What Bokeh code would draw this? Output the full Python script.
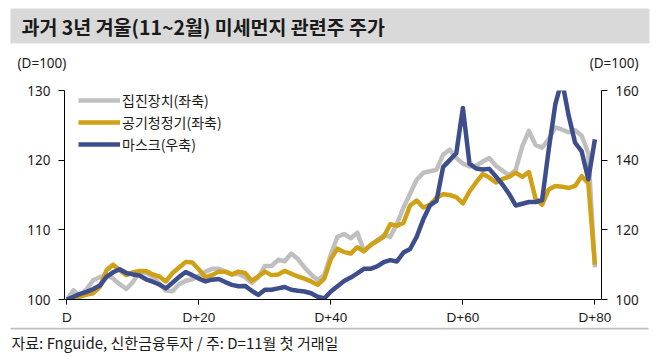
from bokeh.plotting import figure
from bokeh.layouts import column
from bokeh.models import Range1d, LinearAxis, FixedTicker, Legend, LegendItem
from bokeh.core.properties import value
from bokeh.embed import file_html
from bokeh.resources import INLINE

# ---- data (index 100 at D = first trading day of November) ----
days = list(range(0, 81))
x_ticks = [0, 20, 40, 60, 80]
x_tick_labels = ["D", "D+20", "D+40", "D+60", "D+80"]
left_ticks = [100, 110, 120, 130]
right_ticks = [100, 120, 140, 160]

dust_collector = [  # 집진장치 (left axis)
    100.0, 101.3, 100.5, 101.5, 102.8, 103.2, 103.5, 103.0, 102.2, 101.5,
    102.5, 104.0, 103.8, 103.3, 102.3, 101.3, 101.2, 102.2, 102.7, 102.9,
    103.4, 104.0, 104.4, 104.4, 104.0, 103.6, 103.7, 103.2, 102.4, 103.2,
    104.8, 104.8, 105.7, 105.5, 106.6, 105.8, 104.6, 103.6, 102.8, 103.5,
    106.5, 109.0, 109.4, 108.8, 109.6, 107.0, 107.8, 108.5, 109.2, 109.0,
    110.8, 113.2, 115.2, 117.2, 118.2, 118.4, 118.6, 120.8, 121.5, 120.3,
    119.5, 119.1, 119.2, 119.8, 120.3, 119.2, 118.5, 117.8, 118.6, 122.0,
    124.2, 122.2, 121.8, 123.0, 124.7, 124.4, 124.0, 124.3, 123.5, 121.0,
    104.6]

air_purifier = [  # 공기청정기 (left axis)
    100.0, 100.2, 100.4, 100.7, 100.9, 101.8, 104.2, 105.0, 104.2, 103.5,
    103.9, 104.1, 104.1, 103.6, 103.3, 102.6, 103.8, 104.6, 105.4, 105.3,
    104.3, 103.2, 103.5, 104.0, 104.0, 103.6, 104.0, 103.8, 102.7, 103.3,
    104.0, 103.5, 103.6, 104.1, 103.7, 103.3, 103.0, 102.6, 102.1, 103.0,
    105.8, 107.3, 106.8, 106.6, 107.5, 106.9, 107.8, 108.4, 109.0, 110.8,
    110.6, 111.0, 113.5, 114.2, 113.2, 113.6, 114.6, 115.1, 115.0, 114.7,
    113.8, 115.5, 116.8, 118.0, 117.5, 116.8, 117.3, 117.6, 118.2, 117.6,
    118.3, 114.5, 113.6, 115.8, 116.3, 116.2, 116.0, 116.3, 117.7, 116.7,
    105.0]

mask = [  # 마스크 (right axis)
    100.0, 100.8, 101.6, 102.2, 103.0, 104.0, 106.5, 107.8, 108.7, 107.6,
    107.2, 106.9, 105.8, 105.1, 104.3, 103.2, 104.8, 106.5, 107.9, 107.0,
    106.0, 105.2, 105.7, 105.9, 105.0, 104.2, 103.8, 103.9, 102.5, 101.3,
    102.8, 102.8, 103.2, 103.6, 102.8, 102.5, 102.3, 101.8, 100.8, 100.3,
    102.3, 103.8, 105.3, 106.3, 107.5, 108.8, 108.8, 109.5, 110.7, 111.3,
    110.9, 113.5, 114.5, 118.0, 123.0, 127.0, 128.3, 138.0, 140.0, 142.0,
    155.0, 139.0, 137.6, 137.3, 137.5, 135.3, 133.0, 130.3, 127.0, 127.5,
    128.0, 128.0, 128.5, 143.0, 156.0, 163.0, 153.0, 145.0, 142.5, 134.5,
    146.0]

series_names = ["집진장치(좌축)", "공기청정기(좌축)", "마스크(우축)"]
series_colors = ["#BFBFBF", "#CFA116", "#3E4E8C"]

title_text = "과거 3년 겨울(11~2월) 미세먼지 관련주 주가"
unit_text = "(D=100)"
source_text = "자료: Fnguide, 신한금융투자 / 주: D=11월 첫 거래일"

FONT = "Noto Sans CJK KR"
NUMFONT = "Noto Sans"
XFONT = "Liberation Sans"
TXT = "#1a1a1a"
W = 652


def blank(height, y_top):
    # a figure whose data space equals page pixels (x right, y down)
    f = figure(width=W, height=height, output_backend="svg", toolbar_location=None,
               x_range=Range1d(0, W), y_range=Range1d(y_top + height, y_top),
               x_axis_type=None, y_axis_type=None, outline_line_color=None,
               min_border=0, min_border_left=0, min_border_right=0,
               min_border_top=0, min_border_bottom=0, frame_align=False)
    return f


# ---- header: title bar and unit labels ----
head = blank(82, 0)
head.quad(left=[10], right=[649], top=[8], bottom=[43], fill_color="#D9D9D9", line_color=None)
head.text(x=[21], y=[26], text=[title_text], text_font=value(FONT), text_font_size=value("19.5px"),
          text_font_style="bold", text_color=TXT, text_baseline="middle", text_align="left")
head.text(x=[17], y=[62], text=[unit_text], text_font=value(NUMFONT), text_font_size=value("13.5px"),
          text_color=TXT, text_baseline="middle", text_align="left")
head.text(x=[638], y=[62], text=[unit_text], text_font=value(NUMFONT), text_font_size=value("13.5px"),
          text_color=TXT, text_baseline="middle", text_align="right")

# ---- chart ----
p = figure(width=W, height=245, output_backend="svg", toolbar_location=None,
           x_range=Range1d(-0.36, 81.0), y_range=Range1d(100, 130),
           min_border_left=64, min_border_right=51, min_border_top=8, min_border_bottom=26,
           outline_line_color=None, background_fill_color="white", frame_align=False)
p.extra_y_ranges = {"right": Range1d(100, 160)}
p.xgrid.visible = False
p.ygrid.visible = False


def style_axis(ax, tick_out, standoff, font):
    ax.axis_line_color = "black"
    ax.axis_line_width = 1
    ax.major_tick_line_color = "black"
    ax.major_tick_in = 0
    ax.major_tick_out = tick_out
    ax.minor_tick_line_color = None
    ax.major_label_text_font = font
    ax.major_label_text_font_size = "13.5px"
    ax.major_label_text_color = TXT
    ax.major_label_standoff = standoff


xa = p.xaxis[0]
xa.ticker = FixedTicker(ticks=x_ticks)
xa.major_label_overrides = {t: l for t, l in zip(x_ticks, x_tick_labels)}
style_axis(xa, 5, 5, XFONT)

ya = p.yaxis[0]
ya.ticker = FixedTicker(ticks=left_ticks)
style_axis(ya, 6, 8, NUMFONT)

yr = LinearAxis(y_range_name="right", ticker=FixedTicker(ticks=right_ticks))
style_axis(yr, 6, 8, NUMFONT)
p.add_layout(yr, "right")

r1 = p.line(days, dust_collector, line_color=series_colors[0], line_width=4.5, line_join="round")
r2 = p.line(days, air_purifier, line_color=series_colors[1], line_width=4.5, line_join="round")
r3 = p.line(days, mask, line_color=series_colors[2], line_width=4.5, line_join="round",
            y_range_name="right")

legend = Legend(items=[LegendItem(label=series_names[0], renderers=[r1]),
                       LegendItem(label=series_names[1], renderers=[r2]),
                       LegendItem(label=series_names[2], renderers=[r3])],
                location=(14, 145), glyph_width=42, glyph_height=20, label_height=20,
                spacing=2, padding=0, margin=0, border_line_color=None,
                background_fill_alpha=0, label_standoff=2,
                label_text_font=FONT, label_text_font_size="14px", label_text_color=TXT)
p.add_layout(legend)

# ---- footer: rule and source ----
foot = blank(28, 327)
foot.quad(left=[10], right=[648], top=[327], bottom=[329], fill_color="#C0C0C0", line_color=None)
foot.text(x=[11], y=[342], text=[source_text], text_font=value(FONT), text_font_size=value("15px"),
          text_color=TXT, text_baseline="middle", text_align="left")

layout = column(head, p, foot, spacing=0)
open("out.html", "w").write(file_html(layout, INLINE))
